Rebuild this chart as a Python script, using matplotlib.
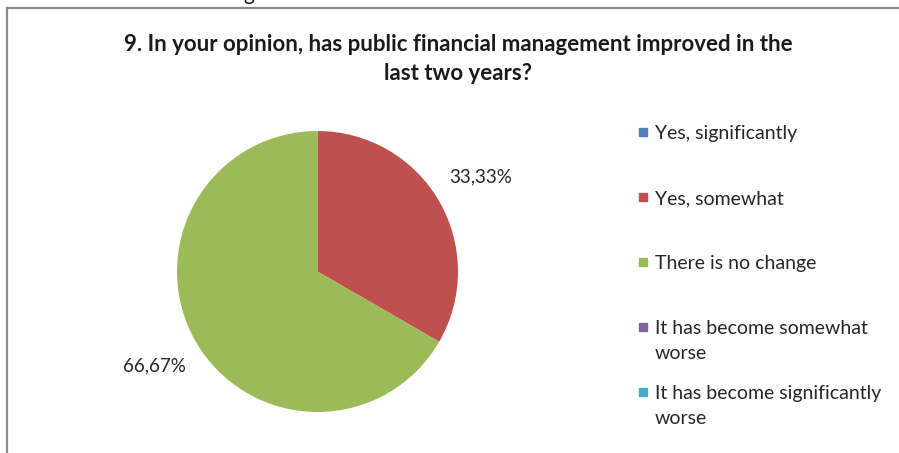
import matplotlib
matplotlib.use("Agg")
import matplotlib.pyplot as plt
import matplotlib.patches as mpatches
from matplotlib.lines import Line2D

plt.rcParams["font.family"] = ["Lato", "DejaVu Sans"]

# DATA
TITLE = "9. In your opinion, has public financial management improved in the\nlast two years?"
categories = [
    "Yes, significantly",
    "Yes, somewhat",
    "There is no change",
    "It has become somewhat\nworse",
    "It has become significantly\nworse",
]
shares = [0.0, 33.33, 66.67, 0.0, 0.0]
colors = ["#4F81BD", "#C0504D", "#9BBB59", "#8064A2", "#4BACC6"]

W, H = 899, 453
fig = plt.figure(figsize=(W / 100, H / 100), dpi=100)

def fx(px):
    return px / W

def fy(py):
    return 1 - py / H

# pie axes, square box in pixels
ax = fig.add_axes([fx(177), fy(412), fx(281), 281 / H])
ax.pie(shares, colors=colors, startangle=90, counterclock=False,
       autopct=lambda p: f"{p:.2f}%".replace(".", ",") if p > 0 else "",
       pctdistance=1.34, textprops={"fontsize": 13.5, "color": "#262626"},
       wedgeprops={"linewidth": 0})
ax.set_xlim(-1, 1)
ax.set_ylim(-1, 1)
ax.set_aspect("equal")
ax.axis("off")

# title
fig.text(fx(458), fy(59), TITLE, ha="center", va="center", fontsize=16,
         fontweight="bold", color="#1a1a1a", linespacing=1.42)

# legend drawn by hand so the swatch sits on the first line
leg_y = [132, 197, 262, 327, 392]
for lab, col, yy in zip(categories, colors, leg_y):
    fig.patches.append(mpatches.Rectangle((fx(639), fy(yy + 4)), fx(8), 8 / H,
                                          transform=fig.transFigure, color=col))
    fig.text(fx(655), fy(yy - 7), lab, ha="left", va="top", fontsize=14,
             color="#262626", linespacing=1.55)

# chart frame (left and top edges)
fig.add_artist(Line2D([fx(7), fx(7)], [fy(8), 0], color="#8a8a8a", lw=1.6))
fig.add_artist(Line2D([fx(7), 1], [fy(8), fy(8)], color="#8a8a8a", lw=1.6))

# cut-off letter from the page above
fig.text(fx(243), 1.0, "g", ha="left", va="baseline", fontsize=15, color="#1a1a1a")

fig.savefig("out.png", dpi=100, facecolor="white")
